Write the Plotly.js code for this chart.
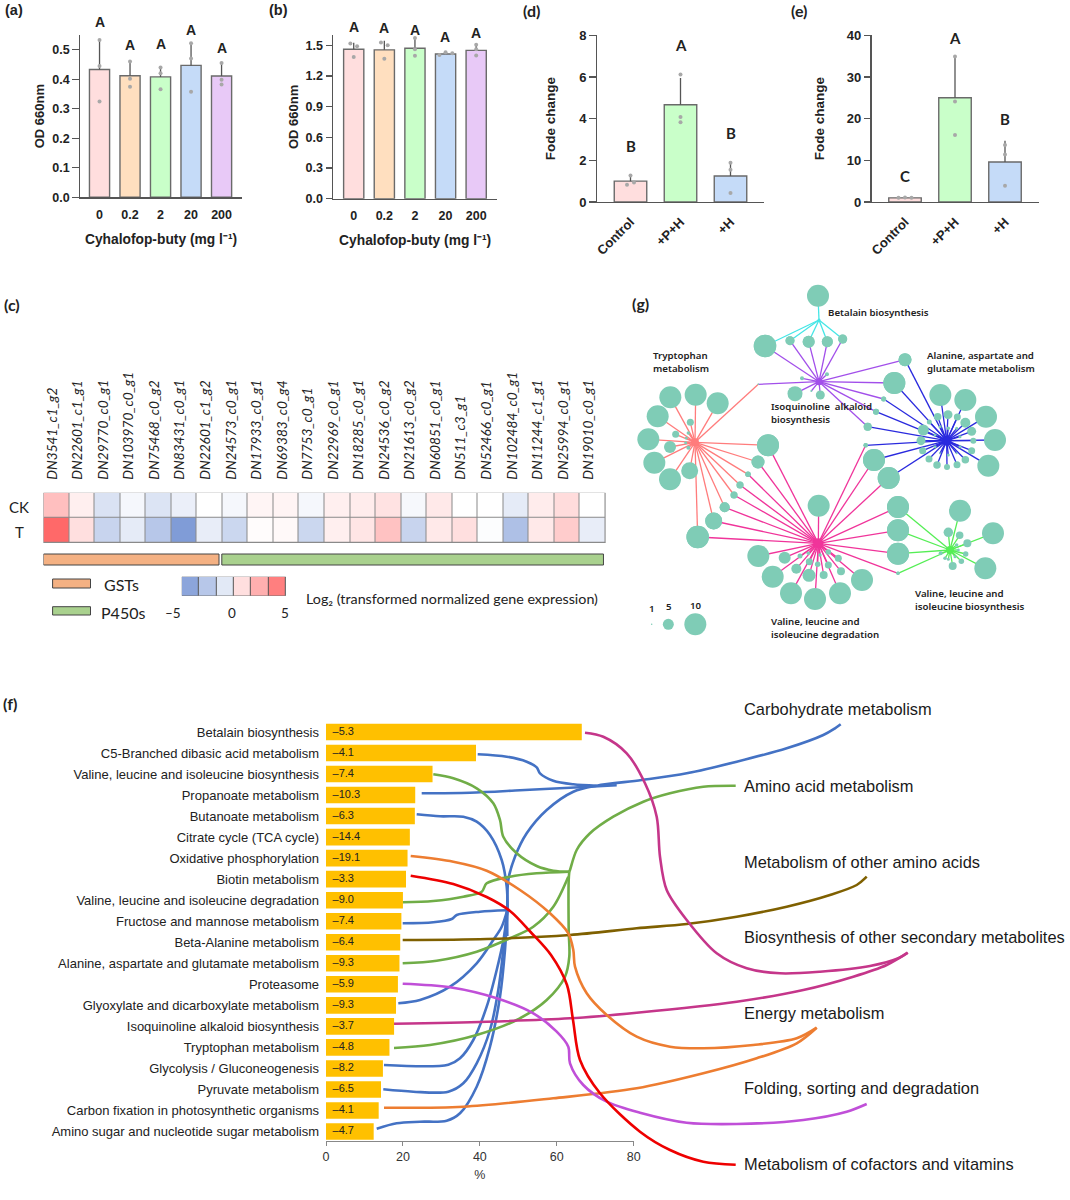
<!DOCTYPE html>
<html>
<head>
<meta charset="utf-8">
<script src="https://cdn.plot.ly/plotly-3.0.1.min.js"></script>
<style>html,body{margin:0;padding:0;background:#fff}</style>
</head>
<body>
<div id="chart" style="width:1070px;height:1200px"></div>
<script>
// ---------- panels (a) and (b)
const doseLabels = ['0', '0.2', '2', '20', '200'];
const doseColors = ['#FFDEDE', '#FFDFBF', '#C9FFC9', '#C5DBF8', '#E8C9F7'];
const aMeans = [0.433, 0.412, 0.408, 0.447, 0.411];
const aErrUp = [0.102, 0.048, 0.034, 0.079, 0.044];
const aDots = [[0.325, 0.445, 0.533], [0.375, 0.402, 0.46], [0.366, 0.42, 0.44], [0.358, 0.47, 0.522], [0.382, 0.398, 0.455]];
const bMeans = [1.46, 1.455, 1.47, 1.415, 1.45];
const bErrUp = [0.065, 0.09, 0.10, 0.015, 0.06];
const bDots = [[1.386, 1.49, 1.517], [1.367, 1.50, 1.526], [1.396, 1.461, 1.57], [1.405, 1.432, 1.422], [1.40, 1.461, 1.504]];
const bDotOffset = [[0, 0.11, -0.11], [0, 0.11, -0.11], [0, 0, 0], [-0.2, 0, 0.22], [0, 0, 0]];

// ---------- panels (d) and (e)
const treatLabels = ['Control', '+P+H', '+H'];
const treatColors = ['#FFDEDE', '#C9FFC9', '#C5DBF8'];
const dMeans = [1.0, 4.67, 1.25];
const dErrUp = [0.27, 1.28, 0.72];
const dDots = [[0.83, 1.27, 0.93], [3.83, 4.08, 6.12], [0.43, 1.55, 1.88]];
const dDotOffset = [[-0.07, 0, 0.07], [0, 0, 0], [0, 0, 0]];
const eMeans = [1.0, 25.0, 9.6];
const eErrUp = [0.1, 10.0, 5.1];
const eDots = [[1.0, 1.05, 1.0], [16.1, 24.1, 34.9], [3.9, 11.4, 13.7]];
const eDotOffset = [[-0.13, 0, 0.13], [0, 0, 0], [0, 0, 0]];

// ---------- panel (c)
const geneLabels = ['DN3541_c1_g2','DN22601_c1_g1','DN29770_c0_g1','DN103970_c0_g1','DN75468_c0_g2','DN83431_c0_g1','DN22601_c1_g2','DN24573_c0_g1','DN17933_c0_g1','DN69383_c0_g4','DN7753_c0_g1','DN22969_c0_g1','DN18285_c0_g1','DN24536_c0_g2','DN21613_c0_g2','DN60851_c0_g1','DN511_c3_g1','DN52466_c0_g1','DN102484_c0_g1','DN11244_c1_g1','DN25994_c0_g1','DN19010_c0_g1'];
const rowLabels = ['CK', 'T'];
const ckValues = [2.0, 0.5, -1.3, -0.35, -1.2, -0.7, 0, -0.35, 0.3, 0.35, -0.35, 0.5, 0.6, 0.9, -0.3, 0.7, 0, 0, -0.9, 0.6, 1.1, 0];
const tValues = [4.7, 1.0, -1.9, -0.9, -2.5, -4.4, -0.8, -1.8, 0.1, 0.2, -1.8, 0.5, 0.8, 1.9, -1.9, 0.7, 1.0, -0.1, -2.8, 0.7, 1.6, -0.8];
const scaleCells = [-4, -2.5, -1, 1, 2.5, 4];

// ---------- panel (f)
const pathways = ['Betalain biosynthesis','C5-Branched dibasic acid metabolism','Valine, leucine and isoleucine biosynthesis','Propanoate metabolism','Butanoate metabolism','Citrate cycle (TCA cycle)','Oxidative phosphorylation','Biotin metabolism','Valine, leucine and isoleucine degradation','Fructose and mannose metabolism','Beta-Alanine metabolism','Alanine, aspartate and glutamate metabolism','Proteasome','Glyoxylate and dicarboxylate metabolism','Isoquinoline alkaloid biosynthesis','Tryptophan metabolism','Glycolysis / Gluconeogenesis','Pyruvate metabolism','Carbon fixation in photosynthetic organisms','Amino sugar and nucleotide sugar metabolism'];
const pathwayPercent = [66.5, 39.0, 27.7, 23.2, 23.1, 21.8, 21.2, 20.8, 20.0, 19.6, 19.3, 19.1, 18.7, 18.2, 17.7, 16.5, 14.8, 14.3, 13.7, 12.4];
const pathwayLog = ['–5.3','–4.1','–7.4','–10.3','–6.3','–14.4','–19.1','–3.3','–9.0','–7.4','–6.4','–9.3','–5.9','–9.3','–3.7','–4.8','–8.2','–6.5','–4.1','–4.7'];
const classNames = ['Carbohydrate metabolism','Amino acid metabolism','Metabolism of other amino acids','Biosynthesis of other secondary metabolites','Energy metabolism','Folding, sorting and degradation','Metabolism of cofactors and vitamins'];
const classLabelY = [709.3, 785.7, 861.7, 937.3, 1012.7, 1088.3, 1164];

// connector curves: [x, y] pairs on the page grid
const blue = '#4472C4', green = '#70AD47', orange = '#ED7D31', pink = '#C5368A', brown = '#7F6000', violet = '#C04FD8', red = '#EE0000';
const flowTrunkBlue = [[507.3,936],[507.3,910],[508.3,880],[515,856.7],[526.7,833.3],[546.7,810],[573.3,791.7],[596.7,785.7],[641.7,780],[686.7,773.3],[736.7,761.7],[786.7,748.3],[823.3,735],[835,728.3],[840.7,724.3]];
const flowC5 = [[477.7,754.3],[506.7,756.7],[526.7,761.7],[536.7,767.3],[540,773.3],[553.3,780.7],[573.3,784.3],[596.7,785.7]];
const flowPropanoate = [[421.7,793.3],[470,792.7],[520,790.3],[570,787.7],[616.7,785.3]];
const flowButanoate = [[416.7,814.3],[440,816.3],[463.3,816.7],[476.7,821.7],[490,835],[501.7,860],[506.7,886.7],[507.7,910]];
const flowFructose = [[402.7,923.3],[433.3,922.3],[451.7,919],[456.7,915],[480,911.7],[506.7,910.3]];
const flowGlyoxylate = [[398.3,1003.3],[420,1000],[450,986.7],[476.7,963.3],[493.3,940],[501.7,926.7],[507.3,910]];
const flowGlycolysis = [[384,1065],[448.3,1064.7],[460,1058.3],[473.3,1040],[486.7,1006.7],[496.7,970],[504,936.7],[507.3,910]];
const flowPyruvate = [[383.3,1089.3],[413.3,1091.7],[448.3,1091.7],[463.3,1083.3],[476.7,1063.3],[490,1030],[498.3,990],[503.3,950],[507.3,910]];
const flowAminoSugar = [[376.7,1128.7],[396.7,1123.3],[420,1121.7],[446.7,1120.7],[460,1113.3],[476.7,1086.7],[490,1046.7],[500,996.7],[505,950],[507.3,910]];
const flowTrunkGreen = [[569.3,871.7],[570,870],[576.7,850],[590,833.3],[613.3,816.7],[643.3,801.7],[670,793.3],[703.3,786.7],[735.7,785.7]];
const flowValBio = [[433.3,774.3],[453.3,778.3],[476.7,788.3],[493.3,803.3],[500,820],[503.3,836.7],[516.7,853.3],[536.7,866],[553.3,870.7],[569.3,871.7]];
const flowValDeg = [[402.7,902.3],[433.3,901],[463.3,896.7],[481.7,891.7],[486.7,883.3],[510,876.7],[536.7,873.3],[569.3,871.7]];
const flowAlanine = [[402.7,963.3],[436.7,960.7],[476.7,951.7],[510,938.3],[533.3,926.7],[553.3,906.7],[568.3,876.7]];
const flowTryptophan = [[394,1048],[430,1045],[476.7,1035],[516.7,1020],[546.7,1000],[565,976.7],[569.3,956.7],[568.7,930],[568.7,880],[569.3,871.7]];
const flowBetaAlanine = [[402.7,940],[486.7,939],[570,935],[636.7,928.3],[686.7,924],[736.7,916.7],[786.7,906.7],[830,895],[856.7,885],[866.7,876.7]];
const flowBetalain = [[585,732.7],[603.3,736.7],[626.7,753.3],[645,783.3],[656.7,816.7],[660,856.7],[666.7,890],[686.7,920],[716.7,953.3],[746.7,968.3],[780,973.3],[820,971.7],[870,966],[898.3,958.3],[907.7,952.7]];
const flowIsoquinoline = [[394,1023.7],[486.7,1021.7],[570,1018.3],[636.7,1012.7],[736.7,1001.7],[803.3,990],[853.3,976.7],[886.7,965],[907.7,952.7]];
const flowOxidative = [[410.7,856],[453.3,861.7],[486.7,870.7],[520,890],[550,913.3],[568.3,933.3],[573.3,950],[575,966.7],[586.7,993.3],[606.7,1015],[636.7,1036.7],[670,1046.7],[703.3,1048.3],[753.3,1045],[796.7,1038.3],[816.7,1027.7]];
const flowCarbon = [[384,1107.7],[463.3,1106.7],[553.3,1098.3],[636.7,1088.3],[703.3,1073.3],[756.7,1058.3],[796.7,1043.3],[816.7,1027.7]];
const flowProteasome = [[402.7,983.7],[450,987.3],[496.7,998.3],[533.3,1013.3],[556.7,1031.7],[568.3,1046.7],[570,1063.3],[583.3,1085],[606.7,1101.7],[640,1112.7],[686.7,1122.7],[736.7,1124],[803.3,1120],[846.7,1111.7],[866.7,1104]];
const flowBiotin = [[410.7,875.7],[453.3,884],[486.7,897],[510,911],[530.6,932],[551,955],[567,985],[573,1020],[580,1060],[600,1093.3],[640,1131.7],[670,1150],[703.3,1161.7],[735.7,1164.7]];
const flowList = [
  [flowTrunkBlue, blue],[flowC5, blue],[flowPropanoate, blue],[flowButanoate, blue],[flowFructose, blue],[flowGlyoxylate, blue],[flowGlycolysis, blue],[flowPyruvate, blue],[flowAminoSugar, blue],
  [flowTrunkGreen, green],[flowValBio, green],[flowValDeg, green],[flowAlanine, green],[flowTryptophan, green],
  [flowBetaAlanine, brown],[flowBetalain, pink],[flowIsoquinoline, pink],[flowOxidative, orange],[flowCarbon, orange],[flowProteasome, violet],[flowBiotin, red]
];

// ---------- panel (g): nodes are [x, y, size] on the network grid
const nodeColor = '#7FCCB6';
const hubBetalain = [597, 120], hubIso = [597, 305], hubTrp = [225, 487], hubDeg = [595, 790], hubAla = [980, 482], hubBio = [990, 810];
const nodesBetalain = [[594,47,22],[435,198,22.5],[510,182,9],[566,185,12],[622,185,11],[668,177,9]];
const nodesIso = [[435,198,22.5],[510,182,9],[566,185,12],[622,185,11],[668,177,9],[855,239,13],[823,309,22],[791,357,5],[768,395,6],[743,440,8],[415,313,1.5],[525,341,15],[601,345,9],[546,295,4],[621,283,4],[574,333,2]];
const nodesTrp = [[151,352,22],[227,344,22],[293,370,22],[113,409,22],[85,478,22],[103,548,22],[150,598,22],[209,572,17],[150,501,12],[167,463,7],[211,427,7],[205,459,3.5],[199,474,3],[197,488,3],[205,503,4],[415,313,1.5],[444,496,22],[414,546,13],[384,583,5.5],[360,615,7],[342,645,7],[314,682,10],[281,723,17],[233,771,22.5]];
const nodesDeg = [[444,496,22],[414,546,13],[384,583,5.5],[360,615,7],[342,645,7],[314,682,10],[281,723,17],[233,771,22.5],[596,677,22],[737,496,4.5],[762,540,22],[806,594,22],[834,681,22],[834,751,22],[834,821,22],[834,880,3.5],[415,828,22],[458,890,22],[513,940,22],[585,957,22],[660,940,22],[726,900,22],[494,833,12],[529,866,10],[567,886,13],[611,885,8],[663,874,8],[540,828,5],[568,845,7],[593,853,5.5],[625,855,7],[655,835,7],[625,816,5.5],[565,820,3.5],[600,825,3.5]];
const nodesAla = [[855,239,13],[823,309,22],[791,357,5],[768,395,6],[743,440,8],[737,496,4.5],[762,540,22],[806,594,22],[961,345,22],[1036,360,22],[1098,410,22],[1125,480,22],[1105,557,22],[910,450,11],[903,482,9],[908,512,7],[927,537,7],[951,555,7.5],[981,561,6],[1011,554,7],[1036,539,7.5],[1055,512,7],[1060,482,6],[1055,454,9],[1036,428,10],[1012,411,7],[984,404,9],[953,410,7.5],[928,426,5],[985,445,3.5],[960,440,3],[1010,445,3],[945,465,3],[1020,470,3],[945,500,3],[1020,500,3],[985,525,3],[960,520,2],[1010,520,2]];
const nodesBio = [[834,681,22],[834,751,22],[834,821,22],[834,880,3.5],[1020,692,22],[1119,760,22],[1096,865,22],[985,757,9.5],[1019,766,7.5],[1042,790,8],[1037,822,5.5],[1024,844,5.5],[998,858,8],[962,820,4],[975,835,3.5],[985,838,3],[1010,795,3.5],[1005,830,3],[1015,810,3]];
const sizeKeyNodes = [[95,1033,1.5],[145,1033,11],[226,1033,22]];
const hubList = [[hubBetalain,nodesBetalain,'#45E6E6'],[hubIso,nodesIso,'#A24FEA'],[hubTrp,nodesTrp,'#FF7C7C'],[hubDeg,nodesDeg,'#F0349A'],[hubAla,nodesAla,'#2A2ADE'],[hubBio,nodesBio,'#55EE55']];

// ---------- helpers
const W = 1070, H = 1200;
const dom = (a, b, size) => [a / size, b / size];
const domY = (top, bottom) => [1 - bottom / H, 1 - top / H];
const arial = 'Liberation Sans, Arial, sans-serif', soft = 'Lato, Calibri, sans-serif', noto = 'Noto Sans, sans-serif';
const layout = {
  width: W, height: H, margin: {l:0, r:0, t:0, b:0}, showlegend: false, autosize: false,
  paper_bgcolor: '#fff', plot_bgcolor: 'rgba(0,0,0,0)', annotations: [], shapes: [], hovermode: false
};
const traces = [];

function barPanel(n, opt) {
  const ax = n === 1 ? 'x' : 'x' + n, ay = n === 1 ? 'y' : 'y' + n;
  const xKey = n === 1 ? 'xaxis' : 'xaxis' + n, yKey = n === 1 ? 'yaxis' : 'yaxis' + n;
  const idx = opt.labels.map((_, i) => i);
  traces.push({type:'bar', x:idx, y:opt.means, width:opt.barWidth, xaxis:ax, yaxis:ay,
    marker:{color:opt.colors, line:{color:'#6A6A6A', width:1.4}},
    error_y:{type:'data', symmetric:false, array:opt.errUp, arrayminus:idx.map(()=>0), color:'#555', thickness:1.3, width:0}});
  const dx = [], dy = [];
  opt.dots.forEach((d, i) => d.forEach((v, j) => { dx.push(i + (opt.offset ? opt.offset[i][j] : 0)); dy.push(v); }));
  traces.push({type:'scatter', mode:'markers', x:dx, y:dy, xaxis:ax, yaxis:ay, cliponaxis:false,
    marker:{color:'#A8A8A8', size:4, opacity:1}});
  layout[xKey] = {domain:dom(opt.l, opt.r, W), range:opt.xr, anchor:ay, tickmode:'array', tickvals:idx, ticktext:opt.labels,
    ticks:'', tickangle:opt.angle, showgrid:false, zeroline:false, showline:true, linecolor:'#555', linewidth:1.3,
    tickfont:{family:arial, size:opt.tick, weight:700, color:'#222'}, ticklabelstandoff:opt.xStandoff,
    title:opt.xTitle ? {text:opt.xTitle, font:{family:arial, size:13.8, weight:700, color:'#222'}, standoff:opt.titleStandoff} : undefined};
  layout[yKey] = {domain:domY(opt.t, opt.b), range:opt.yr, anchor:ax, tickmode:'linear', tick0:0, dtick:opt.dtick, tickformat:opt.fmt,
    ticks:'outside', ticklen:6.5, tickcolor:'#555', tickwidth:1.2, showgrid:false, zeroline:false, showline:true, linecolor:'#555', linewidth:1.3,
    tickfont:{family:arial, size:opt.tick, weight:700, color:'#222'},
    title:{text:opt.yTitle, font:{family:arial, size:opt.yTitleSize, weight:700, color:'#222'}, standoff:opt.yStandoff}};
}

const doseTitle = 'Cyhalofop-buty (mg l⁻¹)';
barPanel(1, {labels:doseLabels, colors:doseColors, means:aMeans, errUp:aErrUp, dots:aDots, barWidth:0.66,
  l:80, r:242, t:35, b:197.3, xr:[-0.64,4.67], yr:[0,0.55], dtick:0.1, fmt:'.1f', tick:12.5, xStandoff:5,
  xTitle:doseTitle, titleStandoff:13, yTitle:'OD 660nm', yTitleSize:13, yStandoff:4});
barPanel(2, {labels:doseLabels, colors:doseColors, means:bMeans, errUp:bErrUp, dots:bDots, offset:bDotOffset, barWidth:0.66,
  l:333.3, r:497, t:35, b:198.7, xr:[-0.667,4.68], yr:[0,1.6], dtick:0.3, fmt:'.1f', tick:12.5, xStandoff:5,
  xTitle:doseTitle, titleStandoff:13, yTitle:'OD 660nm', yTitleSize:13, yStandoff:4});
barPanel(3, {labels:treatLabels, colors:treatColors, means:dMeans, errUp:dErrUp, dots:dDots, offset:dDotOffset, barWidth:0.65,
  l:596.8, r:763.9, t:35.3, b:202, xr:[-0.674,2.668], yr:[0,8], dtick:2, fmt:'d', tick:13, angle:-45, xStandoff:6,
  yTitle:'Fode change', yTitleSize:13.5, yStandoff:20});
barPanel(4, {labels:treatLabels, colors:treatColors, means:eMeans, errUp:eErrUp, dots:eDots, offset:eDotOffset, barWidth:0.65,
  l:871.6, r:1038.6, t:35.3, b:202, xr:[-0.668,2.672], yr:[0,40], dtick:10, fmt:'d', tick:13, angle:-45, xStandoff:6,
  yTitle:'Fode change', yTitleSize:13.5, yStandoff:19});

// ---------- (c) heatmap
const geneIdx = geneLabels.map((_, i) => i);
traces.push({type:'heatmap', x:geneIdx, y:[0,1], z:[ckValues, tValues], xaxis:'x5', yaxis:'y5', zmin:-5, zmax:5, xgap:1, ygap:1, showscale:false,
  colorscale:[[0,'#6F8FD2'],[0.5,'#FFFFFF'],[1,'#FF5F5F']]});
layout.xaxis5 = {domain:dom(43.5,605.5,W), range:[-0.5,21.5], anchor:'y5', side:'top', tickmode:'array', tickvals:geneIdx, ticktext:geneLabels.map(g=>'<i>'+g+'</i>'),
  tickangle:-90, ticks:'', showgrid:false, zeroline:false, showline:false, ticklabelstandoff:12, ticklabelshift:-4, tickfont:{family:soft, size:13.7, color:'#222'}};
layout.yaxis5 = {domain:domY(492.7,543), range:[1.5,-0.5], anchor:'x5', showticklabels:false, ticks:'', showgrid:false, zeroline:false};
layout.shapes.push({type:'rect', xref:'x5', yref:'y5', x0:-0.5, x1:21.5, y0:-0.5, y1:1.5, layer:'below', fillcolor:'#8A8A8A', line:{color:'#8A8A8A', width:1}});
// gene family bars follow the heatmap columns
layout.shapes.push({type:'rect', xref:'x5', yref:'y8', x0:-0.5, x1:6.37, y0:554, y1:565, fillcolor:'#F4B183', line:{color:'#444', width:1}});
layout.shapes.push({type:'rect', xref:'x5', yref:'y8', x0:6.48, x1:21.42, y0:554, y1:565, fillcolor:'#A9D18E', line:{color:'#444', width:1}});
layout.shapes.push({type:'rect', xref:'x8', yref:'y8', x0:52.6, x1:90.5, y0:579, y1:588, fillcolor:'#F4B183', line:{color:'#444', width:1}});
layout.shapes.push({type:'rect', xref:'x8', yref:'y8', x0:52.6, x1:90.5, y0:606.7, y1:615, fillcolor:'#A9D18E', line:{color:'#444', width:1}});
// colour key
traces.push({type:'heatmap', x:scaleCells.map((_, i)=>i), y:[0], z:[scaleCells], xaxis:'x6', yaxis:'y6', zmin:-5, zmax:5, xgap:1, showscale:false,
  colorscale:[[0,'#6F8FD2'],[0.5,'#FFFFFF'],[1,'#FF5F5F']]});
layout.xaxis6 = {domain:dom(181.8,285.8,W), range:[-0.5,5.5], anchor:'y6', visible:false};
layout.yaxis6 = {domain:domY(576.7,595.7), range:[-0.5,0.5], anchor:'x6', visible:false};
layout.shapes.push({type:'rect', xref:'x6', yref:'y6', x0:-0.5, x1:5.5, y0:-0.5, y1:0.5, layer:'below', fillcolor:'#555', line:{color:'#555', width:1}});

// ---------- (g) network, on its own grid
hubList.forEach(([hub, nodes, col]) => {
  const ex = [], ey = [];
  nodes.forEach(n => { ex.push(hub[0], n[0], null); ey.push(hub[1], n[1], null); });
  traces.push({type:'scatter', mode:'lines', x:ex, y:ey, xaxis:'x7', yaxis:'y7', line:{color:col, width:1.3}, cliponaxis:false});
});
const allNodes = hubList.flatMap(h => h[1]).concat(sizeKeyNodes);
traces.push({type:'scatter', mode:'markers', x:allNodes.map(n=>n[0]), y:allNodes.map(n=>n[1]), xaxis:'x7', yaxis:'y7', cliponaxis:false,
  marker:{color:nodeColor, size:allNodes.map(n=>n[2]), opacity:1, line:{width:0}}});
traces.push({type:'scatter', mode:'markers', x:hubList.map(h=>h[0][0]), y:hubList.map(h=>h[0][1]), xaxis:'x7', yaxis:'y7', cliponaxis:false,
  marker:{color:hubList.map(h=>h[2]), size:[3,7,8,10,10,8], opacity:1, line:{width:0}}});
layout.xaxis7 = {domain:dom(620,1040,W), range:[0,1260], anchor:'y7', visible:false};
layout.yaxis7 = {domain:domY(280,640), range:[1080,0], anchor:'x7', visible:false};

// ---------- (f) bars
const rowIdx = pathways.map((_, i) => i);
traces.push({type:'bar', orientation:'h', x:pathwayPercent, y:rowIdx, width:0.79, xaxis:'x9', yaxis:'y9', marker:{color:'#FFC000', line:{width:0}}});
traces.push({type:'scatter', mode:'text', x:rowIdx.map(()=>1.7), y:rowIdx, text:pathwayLog, textposition:'middle right', xaxis:'x9', yaxis:'y9',
  textfont:{family:arial, size:11, color:'#222'}});
layout.xaxis9 = {domain:dom(326,633.7,W), range:[0,80], anchor:'y9', tickmode:'linear', tick0:0, dtick:20, ticks:'outside', ticklen:4, tickcolor:'#888', showgrid:false, zeroline:false,
  showline:true, linecolor:'#888', linewidth:1, tickfont:{family:arial, size:12.5, color:'#333'}, title:{text:'%', font:{family:arial, size:12.5, color:'#333'}, standoff:7}};
layout.yaxis9 = {domain:domY(721,1141), range:[19.45,-0.52], anchor:'x9', tickmode:'array', tickvals:rowIdx, ticktext:pathways, ticks:'', showgrid:false, zeroline:false, showline:false,
  ticklabelstandoff:6, ticklabelshift:-1.5, tickfont:{family:arial, size:13, color:'#222'}};

// connectors drawn over the page grid
flowList.forEach(([pts, col]) => traces.push({type:'scatter', mode:'lines', x:pts.map(p=>p[0]), y:pts.map(p=>p[1]), xaxis:'x8', yaxis:'y8',
  line:{color:col, width:2.6, shape:'spline', smoothing:0.9}, cliponaxis:false}));
layout.xaxis8 = {domain:[0,1], range:[0,W], anchor:'y8', visible:false};
layout.yaxis8 = {domain:[0,1], range:[H,0], anchor:'x8', visible:false};

// ---------- text placed on the page grid
function note(text, x, y, o) {
  o = o || {};
  const xa = o.xa || 'left';
  layout.annotations.push({text, x: xa === 'left' ? x - 2 : x, y, xref:'x8', yref:'y8', showarrow:false, xanchor:xa, yanchor:o.ya||'middle', align:o.align||'left',
    font:{family:o.family||noto, size:o.size||10, color:o.color||'#222', weight:o.weight||400}});
}
const letterA = ['A','A','A','A','A'], letterAX = [99.5,130,160.7,191,221.5], letterAY = [21.7,45,44,30,48];
letterA.forEach((t,i)=>note(t, letterAX[i], letterAY[i], {xa:'center', family:arial, size:14, weight:700}));
const letterBX = [353.7,384.3,415,445.3,476], letterBY = [27,28,30,37,33];
letterA.forEach((t,i)=>note(t, letterBX[i], letterBY[i], {xa:'center', family:arial, size:14, weight:700}));
const letterD = ['B','A','B'], letterDX = [630.5,680.7,730.5], letterDY = [146,45,133];
letterD.forEach((t,i)=>note(t, letterDX[i], letterDY[i], {xa:'center', family:soft, size:15, weight:700}));
const letterE = ['C','A','B'], letterEX = [905,955,1005], letterEY = [176,37.7,119];
letterE.forEach((t,i)=>note(t, letterEX[i], letterEY[i], {xa:'center', family:soft, size:15, weight:700}));

note('(a)', 5, 10, {family:arial, size:14.5, weight:700});
note('(b)', 269, 10, {family:arial, size:14.5, weight:700});
note('(d)', 523, 10, {family:soft, size:16, weight:700});
note('(e)', 791, 10, {family:soft, size:16, weight:700});
note('(c)', 4, 304, {family:soft, size:16, weight:700});
note('(g)', 632, 303, {family:soft, size:16, weight:700});
note('(f)', 3, 703, {family:soft, size:16, weight:700});

note(rowLabels[0], 19, 507, {xa:'center', family:soft, size:15});
note(rowLabels[1], 19, 532, {xa:'center', family:soft, size:15});
note('GSTs', 104, 584, {family:soft, size:16});
note('P450s', 101, 612, {family:soft, size:16});
note('–5', 172.7, 613, {xa:'center', family:soft, size:13.5});
note('0', 232, 613, {xa:'center', family:soft, size:13.5});
note('5', 285, 613, {xa:'center', family:soft, size:13.5});
note('Log₂ (transformed normalized gene expression)', 306, 598, {family:soft, size:14.3});

classNames.forEach((t,i)=>note(t, 744, classLabelY[i], {family:arial, size:16.4, color:'#1a1a1a'}));

const netOpts = {family:noto, size:9.7, weight:600, color:'#222'};
note('Betalain biosynthesis', 828, 312, netOpts);
note('Tryptophan<br>metabolism', 653, 362, netOpts);
note('Isoquinoline  alkaloid<br>biosynthesis', 770.7, 413, netOpts);
note('Alanine, aspartate and<br>glutamate metabolism', 926.7, 362, netOpts);
note('Valine, leucine and<br>isoleucine biosynthesis', 914.7, 600, netOpts);
note('Valine, leucine and<br>isoleucine degradation', 770.7, 628, netOpts);
note('1', 651.7, 608, {...netOpts, xa:'center'});
note('5', 669, 606, {...netOpts, xa:'center'});
note('10', 696, 605, {...netOpts, xa:'center'});

Plotly.newPlot('chart', traces, layout, {staticPlot:true, displayModeBar:false});
</script>
</body>
</html>
